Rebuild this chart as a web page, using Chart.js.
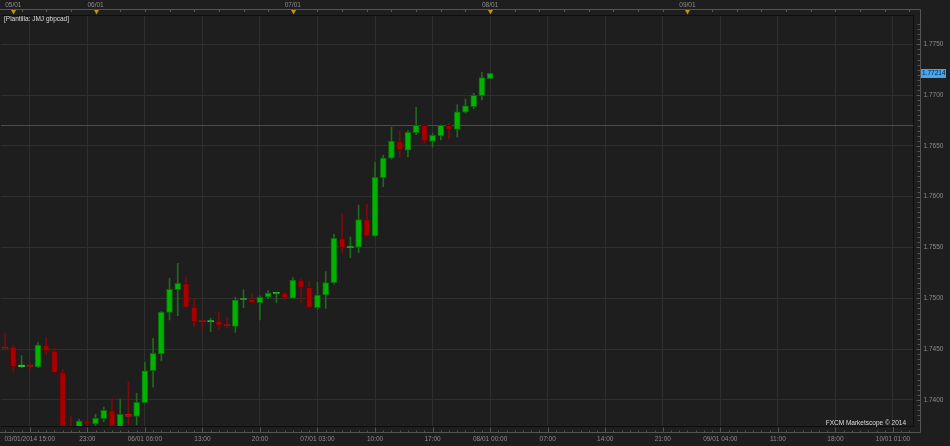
<!DOCTYPE html>
<html>
<head>
<meta charset="utf-8">
<script src="https://cdn.jsdelivr.net/npm/chart.js@4.4.1/dist/chart.umd.min.js"></script>
<style>
  html, body { margin: 0; padding: 0; background: #1e1e1e; }
  canvas { display: block; }
</style>
</head>
<body>
<canvas id="chart" width="950" height="446"></canvas>
<script>
// GBPCAD hourly candles
const opens = [
  1.74514, 1.74521, 1.74324, 1.74334, 1.74324, 1.74540, 1.74484, 1.74271, 1.73730, 1.73720,
  1.73792, 1.73763, 1.73815, 1.73894, 1.73740, 1.73861, 1.73838, 1.73972, 1.74287, 1.74452,
  1.74862, 1.75085, 1.75144, 1.74914, 1.74774, 1.74771, 1.74776, 1.74736, 1.74724, 1.74988,
  1.74993, 1.74957, 1.75013, 1.75048, 1.75052, 1.75000, 1.75180, 1.75108, 1.74907, 1.75032,
  1.75153, 1.75587, 1.75500, 1.75502, 1.75774, 1.75613, 1.76187, 1.76378, 1.76548, 1.76457,
  1.76630, 1.76703, 1.76545, 1.76597, 1.76703, 1.76663, 1.76831, 1.76886, 1.76994, 1.77161
];
const highs = [
  1.74658, 1.74540, 1.74435, 1.74370, 1.74563, 1.74616, 1.74508, 1.74301, 1.73834, 1.73809,
  1.73805, 1.73858, 1.73930, 1.74016, 1.74009, 1.74179, 1.74065, 1.74370, 1.74606, 1.74870,
  1.75197, 1.75344, 1.75212, 1.74996, 1.74776, 1.74806, 1.74865, 1.74813, 1.75010, 1.75082,
  1.75049, 1.75023, 1.75075, 1.75055, 1.75055, 1.75203, 1.75190, 1.75163, 1.75157, 1.75264,
  1.75630, 1.75830, 1.75606, 1.75918, 1.75925, 1.76339, 1.76410, 1.76686, 1.76647, 1.76650,
  1.76880, 1.76706, 1.76624, 1.76706, 1.76722, 1.76903, 1.76962, 1.77018, 1.77224, 1.77214
];
const lows = [
  1.74510, 1.74274, 1.74320, 1.74297, 1.74320, 1.74442, 1.74265, 1.73700, 1.73690, 1.73710,
  1.73753, 1.73746, 1.73785, 1.73720, 1.73730, 1.73753, 1.73753, 1.73970, 1.74124, 1.74383,
  1.74786, 1.74829, 1.74908, 1.74720, 1.74698, 1.74671, 1.74691, 1.74705, 1.74665, 1.74907,
  1.74955, 1.74786, 1.74996, 1.74957, 1.74986, 1.74998, 1.74961, 1.74905, 1.74892, 1.74901,
  1.75141, 1.75443, 1.75400, 1.75449, 1.75606, 1.75606, 1.76098, 1.76368, 1.76394, 1.76394,
  1.76610, 1.76526, 1.76486, 1.76558, 1.76568, 1.76585, 1.76821, 1.76866, 1.76952, 1.77161
];
const closes = [
  1.74510, 1.74327, 1.74343, 1.74330, 1.74540, 1.74481, 1.74268, 1.73720, 1.73710, 1.73792,
  1.73763, 1.73819, 1.73897, 1.73740, 1.73858, 1.73838, 1.73976, 1.74287, 1.74459, 1.74865,
  1.75088, 1.75148, 1.74911, 1.74767, 1.74770, 1.74775, 1.74734, 1.74732, 1.74983, 1.74992,
  1.74957, 1.75010, 1.75052, 1.75050, 1.75003, 1.75180, 1.75108, 1.74907, 1.75032, 1.75155,
  1.75590, 1.75498, 1.75502, 1.75774, 1.75613, 1.76191, 1.76381, 1.76548, 1.76460, 1.76634,
  1.76703, 1.76548, 1.76604, 1.76703, 1.76663, 1.76834, 1.76893, 1.76998, 1.77171, 1.77214
];

const slots = 111;
const timeLabels = ['03/01/2014 15:00', '23:00', '06/01 06:00', '13:00', '20:00', '07/01 03:00',
  '10:00', '17:00', '08/01 00:00', '07:00', '14:00', '21:00', '09/01 04:00', '11:00', '18:00', '10/01 01:00'];
const timeTickStart = 3, timeTickStep = 7;
const dayLabels = ['05/01', '06/01', '07/01', '08/01', '09/01'];
const dayIndex  = [1, 11, 35, 59, 83];
const levelLine = 1.76703;
const yMin = 1.73743, yMax = 1.77788;

const BG = '#1e1e1e', GRID = '#2f2f2f', AXIS = '#555555', TXT = '#8c8c8c', EDGE = '#0e0e0e';
const font = { family: 'Liberation Sans', size: 6.5 };

const isTimeTick = i => i >= timeTickStart && (i - timeTickStart) % timeTickStep === 0;
const onStep = (v, s) => Math.abs(v / s - Math.round(v / s)) < 1e-6;

const bodies = [], wicks = [], bodyFill = [], bodyEdge = [], wickCol = [];
for (let i = 0; i < slots; i++) {
  if (i < opens.length) {
    const up = closes[i] >= opens[i];
    const thin = Math.abs(closes[i] - opens[i]) < 0.00025;
    bodies.push([opens[i], closes[i]]);
    wicks.push([lows[i], highs[i]]);
    bodyFill.push(up ? '#00b300' : '#a80000');
    bodyEdge.push(thin ? (up ? '#3fdc3f' : '#cc1111') : (up ? '#0b6b0b' : '#650000'));
    wickCol.push(up ? '#1f6a1f' : '#7a0c0c');
  } else {
    bodies.push(null); wicks.push(null);
    bodyFill.push('transparent'); bodyEdge.push('transparent'); wickCol.push('transparent');
  }
}

const frame = {
  id: 'frame',
  beforeDraw(chart) {
    const c = chart.ctx;
    c.save();
    c.fillStyle = BG;
    c.fillRect(0, 0, chart.width, chart.height);
    c.restore();
  },
  beforeDatasetsDraw(chart) {
    const c = chart.ctx, a = chart.chartArea, y = chart.scales.y;
    const py = Math.round(y.getPixelForValue(levelLine)) + 0.5;
    c.save();
    c.strokeStyle = '#6b4423';
    c.lineWidth = 1;
    c.beginPath(); c.moveTo(a.left, py); c.lineTo(a.right, py); c.stroke();
    c.restore();
  },
  afterDraw(chart) {
    const c = chart.ctx;
    const x = chart.scales.x, xt = chart.scales.xTop, y = chart.scales.y;
    const axR = 920.5, axT = 9.5, axB = 432.5;
    c.save();
    c.strokeStyle = AXIS;
    c.lineWidth = 1;
    c.beginPath();
    c.moveTo(0, axT); c.lineTo(axR, axT); c.lineTo(axR, axB); c.lineTo(0, axB);
    c.stroke();

    c.beginPath();
    for (let i = 0; i < slots; i++) {
      const px = Math.round(x.getPixelForValue(i)) + 0.5;
      c.moveTo(px, axB); c.lineTo(px, isTimeTick(i) ? axB - 5 : axB - 2);
      if (i % 3 === 2) { c.moveTo(px, axT); c.lineTo(px, axT + 2.5); }
    }
    y.ticks.forEach(t => {
      if (!onStep(t.value, 0.0005)) return;
      const py = Math.round(y.getPixelForValue(t.value)) + 0.5;
      c.moveTo(axR, py); c.lineTo(onStep(t.value, 0.005) ? axR - 4 : axR - 3, py);
    });
    c.stroke();

    // day markers on top strip
    c.fillStyle = '#c8920e';
    dayIndex.forEach(i => {
      const px = Math.round(xt.getPixelForValue(i)) + 0.5;
      c.beginPath();
      c.moveTo(px - 2.5, 10); c.lineTo(px + 2.5, 10); c.lineTo(px, 14.5);
      c.closePath(); c.fill();
    });

    // last price box
    const last = closes[closes.length - 1];
    const ly = Math.round(y.getPixelForValue(last));
    c.fillStyle = '#45a6ef';
    c.fillRect(921, ly - 4, 25, 9);
    c.fillStyle = '#0b2238';
    c.font = '6.5px "Liberation Sans"';
    c.textAlign = 'left';
    c.textBaseline = 'middle';
    c.fillText(last.toFixed(5), 922, ly + 0.5);

    c.fillStyle = '#dcdcdc';
    c.fillText('[Plantilla: JMJ gbpcad]', 4, 19.5);
    c.textAlign = 'right';
    c.fillText('FXCM Marketscope \u00a9 2014', 906, 423.5);
    c.restore();
  }
};

new Chart(document.getElementById('chart'), {
  type: 'bar',
  data: {
    labels: Array.from({ length: slots }, (_, i) => i),
    datasets: [
      { label: 'body', data: bodies, backgroundColor: bodyFill, borderColor: bodyEdge, borderWidth: 1,
        borderSkipped: false, barThickness: 6, minBarLength: 1, grouped: false, clip: 0 },
      { label: 'wick', data: wicks, backgroundColor: wickCol, borderWidth: 0,
        barThickness: 1, grouped: false, clip: 0 }
    ]
  },
  options: {
    responsive: false,
    animation: false,
    devicePixelRatio: 1,
    layout: { padding: { left: 1 } },
    plugins: { legend: { display: false }, tooltip: { enabled: false } },
    scales: {
      x: {
        type: 'category', position: 'bottom', offset: true,
        grid: { offset: false, color: ctx => isTimeTick(ctx.index) ? GRID : 'transparent', tickColor: 'transparent', tickLength: 7 },
        border: { color: EDGE },
        ticks: { autoSkip: false, maxRotation: 0, padding: 2, color: TXT, font,
          callback: (v, i) => isTimeTick(i) ? (timeLabels[(i - timeTickStart) / timeTickStep] || '') : '' },
        afterFit: s => { s.height = 20; }
      },
      xTop: {
        type: 'category', position: 'top', offset: true,
        grid: { drawOnChartArea: false, tickColor: 'transparent', tickLength: 5 },
        border: { color: EDGE },
        ticks: { autoSkip: false, maxRotation: 0, padding: 1, color: TXT, font,
          callback: (v, i) => { const k = dayIndex.indexOf(i); return k >= 0 ? dayLabels[k] : ''; } },
        afterFit: s => { s.height = 15; }
      },
      y: {
        position: 'right', min: yMin, max: yMax,
        grid: { color: ctx => ctx.tick && onStep(ctx.tick.value, 0.005) ? GRID : 'transparent', tickColor: 'transparent', tickLength: 8 },
        border: { color: EDGE },
        ticks: { stepSize: 0.0005, autoSkip: false, padding: 2, color: TXT, font,
          callback: v => onStep(v, 0.005) ? v.toFixed(4) : '' },
        afterFit: s => { s.width = 36.5; }
      }
    }
  },
  plugins: [frame]
});
</script>
</body>
</html>
